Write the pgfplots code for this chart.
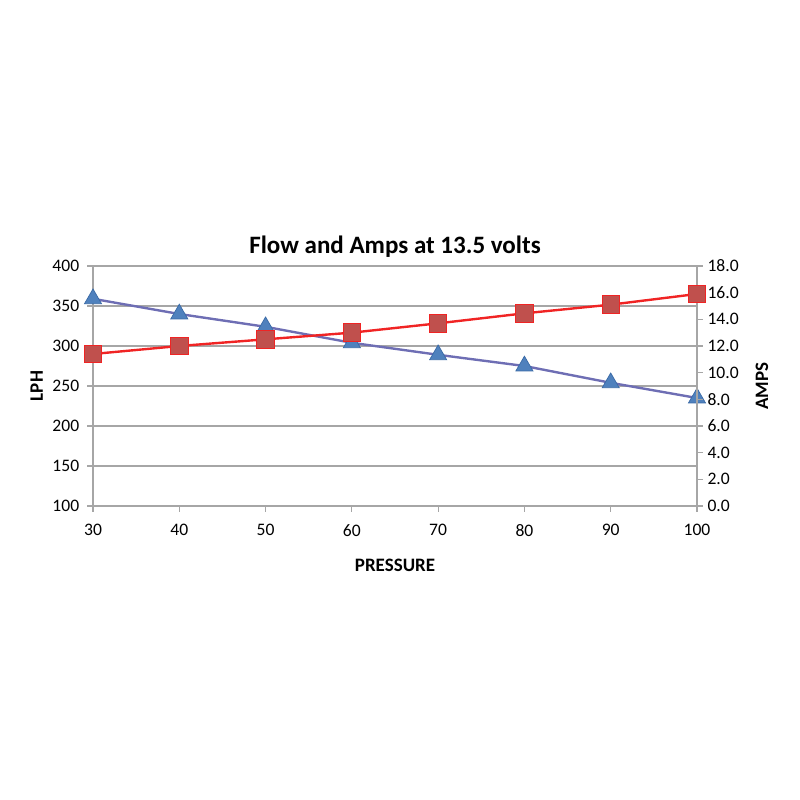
\documentclass[border=0pt]{standalone}
\usepackage{pgfplots}
\pgfplotsset{compat=1.18}
\usepackage{fontspec}
\setmainfont{Carlito}
\definecolor{gridc}{HTML}{A6A6A6}
\definecolor{blueline}{HTML}{6E6EB4}
\definecolor{bluefill}{HTML}{4F81BD}
\definecolor{blueedge}{HTML}{3A6AA6}
\definecolor{redline}{HTML}{F02424}
\definecolor{redfill}{HTML}{C0504D}
\begin{document}
\begin{tikzpicture}
\useasboundingbox (0,0) rectangle (20cm,20cm);
\pgfplotsset{
  every axis/.style={scale only axis, width=15.1cm, height=6cm,
    at={(2.325cm,7.35cm)}, anchor=south west,
    xmin=30, xmax=100, axis line style={gridc, line width=0.9pt},
    tick style={gridc, line width=0.8pt},
    tick label style={font=\fontsize{12.5}{14}\selectfont},
    /pgf/number format/assume math mode=true},
}
\begin{axis}[
  ymin=100, ymax=400, ytick={100,150,...,400},
  xtick={30,40,...,100},
  axis x line*=bottom, axis y line*=left,
  x axis line style={-}, y axis line style={-},
  ymajorgrids, grid style={gridc, line width=0.9pt},
  xtick align=outside, ytick align=outside,
  major tick length=4pt,
  xticklabel style={yshift=-0.2cm},
  yticklabel style={xshift=-0.08cm},
  title={Flow and Amps at 13.5 volts},
  title style={font=\fontsize{17.8}{20}\selectfont\bfseries, yshift=-3.5pt},
  xlabel={PRESSURE}, ylabel={LPH},
  label style={font=\fontsize{13.5}{15}\selectfont\bfseries},
  xlabel style={at={(axis description cs:0.5,0)}, anchor=center, yshift=-1.475cm},
  ylabel style={yshift=0pt},
]
\addplot[blueline, line width=1.7pt, mark=triangle*, mark size=7pt,
  mark options={fill=bluefill, draw=blueedge, line width=0.5pt}]
  coordinates {(30,359) (40,340) (50,324) (60,304) (70,289) (80,275) (90,254) (100,235)};
\end{axis}
\begin{axis}[
  ymin=0, ymax=18, ytick={0,2,...,18},
  axis x line=none, axis y line*=right, y axis line style={-},
  ytick align=outside, major tick length=4pt,
  yticklabel style={/pgf/number format/fixed, /pgf/number format/fixed zerofill, /pgf/number format/precision=1},
  ylabel={AMPS},
  ylabel style={font=\fontsize{13.5}{15}\selectfont\bfseries, yshift=-0.18cm},
]
\addplot[redline, line width=1.7pt, mark=square*, mark size=6.2pt,
  mark options={fill=redfill, draw=redline, line width=0.7pt}]
  coordinates {(30,11.4) (40,12.0) (50,12.5) (60,13.0) (70,13.7) (80,14.45) (90,15.1) (100,15.9)};
\end{axis}
\end{tikzpicture}
\end{document}
